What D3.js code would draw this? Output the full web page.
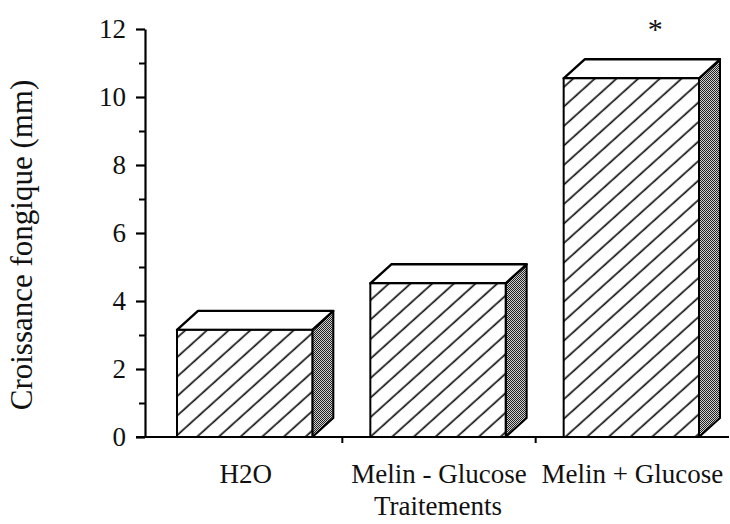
<!DOCTYPE html>
<html><head><meta charset="utf-8">
<script src="https://cdn.jsdelivr.net/npm/d3@7"></script>
<style>body{margin:0;background:#fff}</style>
</head><body>
<script>
const categories = ["H2O", "Melin - Glucose", "Melin + Glucose"];
const values = [3.15, 4.52, 10.55];
const significance = ["", "", "*"];
const yTicks = [0, 2, 4, 6, 8, 10, 12];
const yMinorTicks = [1, 3, 5, 7, 9, 11];
const xTitle = "Traitements";
const yTitle = "Croissance fongique (mm)";

const W = 730, H = 524;
const FONT = "'Liberation Serif', 'Times New Roman', serif";
const svg = d3.select("body").append("svg").attr("width", W).attr("height", H)
  .style("font-family", FONT);

const x = d3.scaleBand().domain(categories).range([149, 729]);
const y = d3.scaleLinear().domain([0, 12]).range([437, 29]);
const depthX = 21, depthY = 19;
const barW = x.bandwidth() * 0.7;

const defs = svg.append("defs");
const hatch = defs.append("pattern").attr("id", "hatch")
  .attr("patternUnits", "userSpaceOnUse").attr("width", 20).attr("height", 14.5)
  .attr("patternTransform", "rotate(-42)");
hatch.append("rect").attr("width", 20).attr("height", 14.5).attr("fill", "#fff");
hatch.append("line").attr("x1", 0).attr("x2", 20).attr("y1", 7).attr("y2", 7)
  .attr("stroke", "#111").attr("stroke-width", 1.7);

const stip = defs.append("pattern").attr("id", "stip")
  .attr("patternUnits", "userSpaceOnUse").attr("width", 2).attr("height", 2);
stip.append("rect").attr("width", 2).attr("height", 2).attr("fill", "#cfcfcf");
stip.append("rect").attr("x", 0).attr("y", 0).attr("width", 1).attr("height", 1).attr("fill", "#222");
stip.append("rect").attr("x", 1).attr("y", 1).attr("width", 1).attr("height", 1).attr("fill", "#222");

// bars
const bars = svg.append("g").selectAll("g").data(categories).join("g");
bars.each(function(c, i) {
  const g = d3.select(this);
  const x0 = x(c) + (x.bandwidth() - barW) / 2 - 1;
  const x1 = x0 + barW;
  const yt = y(values[i]);
  const yb = y(0);
  g.append("path")
    .attr("d", `M${x1},${yb} L${x1 + depthX},${yb - depthY} L${x1 + depthX},${yt - depthY} L${x1},${yt} Z`)
    .attr("fill", "url(#stip)").attr("stroke", "#000").attr("stroke-width", 2).attr("stroke-linejoin", "round");
  g.append("path")
    .attr("d", `M${x0},${yt} L${x0 + depthX},${yt - depthY} L${x1 + depthX},${yt - depthY} L${x1},${yt} Z`)
    .attr("fill", "#fff").attr("stroke", "#000").attr("stroke-width", 2.4).attr("stroke-linejoin", "round");
  g.append("rect").attr("x", x0).attr("y", yt).attr("width", barW).attr("height", yb - yt)
    .attr("fill", "url(#hatch)").attr("stroke", "#000").attr("stroke-width", 2);
  if (significance[i]) {
    g.append("text").attr("x", x0 + barW / 2 + 24).attr("y", yt - depthY - 20)
      .attr("text-anchor", "middle").attr("font-size", 30).attr("fill", "#111")
      .text(significance[i]);
  }
});

// y axis
const yAxis = d3.axisLeft(y).tickValues(yTicks).tickSize(9).tickSizeOuter(0).tickPadding(10);
const gy = svg.append("g").attr("transform", "translate(145,0)").call(yAxis);
gy.select(".domain").attr("stroke", "#000").attr("stroke-width", 2.2);
gy.selectAll(".tick line").attr("stroke", "#000").attr("stroke-width", 2.2);
gy.selectAll(".tick text").attr("font-size", 27).attr("font-family", FONT).attr("fill", "#111");
const gym = svg.append("g").attr("transform", "translate(145,0)")
  .call(d3.axisLeft(y).tickValues(yMinorTicks).tickSize(6).tickFormat(""));
gym.select(".domain").remove();
gym.selectAll(".tick line").attr("stroke", "#000").attr("stroke-width", 2);

// x axis
svg.append("line").attr("x1", 136).attr("x2", 729).attr("y1", y(0)).attr("y2", y(0))
  .attr("stroke", "#000").attr("stroke-width", 2.2);
svg.append("g").selectAll("line").data(categories.slice(1)).join("line")
  .attr("x1", d => x(d)).attr("x2", d => x(d))
  .attr("y1", y(0)).attr("y2", y(0) + 6).attr("stroke", "#000").attr("stroke-width", 2);
const gx = svg.append("g").attr("transform", `translate(0,${y(0)})`)
  .call(d3.axisBottom(x).tickSize(0).tickPadding(27));
gx.select(".domain").remove();
gx.selectAll(".tick text").attr("font-size", 27).attr("font-family", FONT).attr("fill", "#111");

// titles
svg.append("text").attr("x", 438).attr("y", 515).attr("text-anchor", "middle")
  .attr("font-size", 27).attr("fill", "#111").text(xTitle);
svg.append("text").attr("transform", "translate(32,245) rotate(-90)")
  .attr("text-anchor", "middle").attr("font-size", 31)
  .attr("fill", "#111").text(yTitle);
</script>
</body></html>
